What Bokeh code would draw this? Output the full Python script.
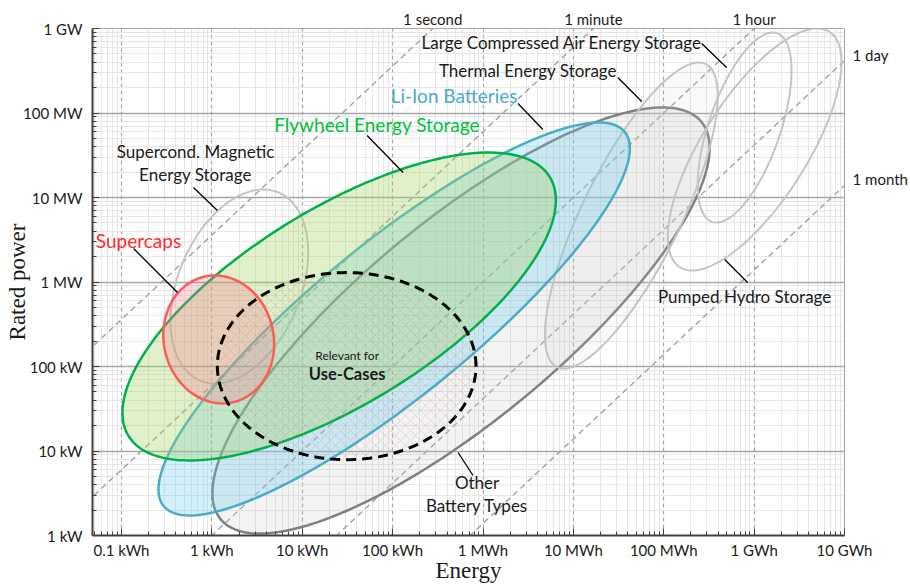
import numpy as np
from bokeh.plotting import figure
from bokeh.models import Range1d, FixedTicker, CustomJSTickFormatter, Label, LogAxis
from bokeh.embed import file_html
from bokeh.resources import INLINE

# ---------------- data ----------------
x_ticks = [0.1, 1, 10, 100, 1e3, 1e4, 1e5, 1e6, 1e7]            # kWh
x_tick_labels = ["0.1 kWh", "1 kWh", "10 kWh", "100 kWh", "1 MWh",
                 "10 MWh", "100 MWh", "1 GWh", "10 GWh"]
y_ticks = [1, 10, 100, 1e3, 1e4, 1e5, 1e6]                         # kW
y_tick_labels = ["1 kW", "10 kW", "100 kW", "1 MW", "10 MW", "100 MW", "1 GW"]

# storage technologies: ellipses in log-log space
tech = ["Other Battery Types", "Thermal Energy Storage", "Large CAES",
        "Pumped Hydro Storage", "SMES", "Li-Ion Batteries",
        "Flywheel Energy Storage", "Supercaps", "Use-Cases"]
center_energy_kwh = [571, 43750, 785000, 1014000, 2.01, 104, 25.6, 1.19, 31.0]
center_power_kw = [350, 6120, 67300, 37000, 885, 365, 513, 209, 101]
energy_halfspan_dec = [2.751, 0.956, 0.519, 0.961, 0.762, 2.608, 2.398, 0.613, 1.431]
power_halfspan_dec = [2.521, 1.811, 1.124, 1.432, 1.148, 2.325, 1.822, 0.757, 1.107]
tilt = [0.81, 0.78, 0.60, 0.72, 0.35, 0.868, 0.69, -0.07, 0.0]

# constant discharge-duration lines
durations_h = [1 / 3600, 1 / 60, 1, 24, 720]
duration_labels = ["1 second", "1 minute", "1 hour", "1 day", "1 month"]

# annotation texts (anchor energy kWh, power kW) and leader lines
label_texts = ["Supercond. Magnetic\nEnergy Storage", "Supercaps",
               "Flywheel Energy Storage", "Li-Ion Batteries",
               "Thermal Energy Storage", "Large Compressed Air Energy Storage",
               "Pumped Hydro Storage", "Other\nBattery Types"]
label_energy = [0.658, 0.154, 67.4, 479, 3140, 7460, 785000, 859]
label_power = [25900, 3100, 73100, 161000, 318000, 683000, 673, 3.06]
leader_e0 = [0.625, 0.136, 52.2, 2440, 31000, 263000, 847000, 776]
leader_p0 = [13100, 2490, 54200, 129500, 263000, 664000, 986, 5.13]
leader_e1 = [1.15, 0.416, 130.6, 4600, 57100, 496000, 472000, 530]
leader_p1 = [7020, 751, 19770, 63800, 136800, 345000, 1846, 9.6]

usecase_texts = ["Relevant for", "Use-Cases"]
usecase_energy = [31.4, 31.4]
usecase_power = [135, 82.6]

# ---------------- styles ----------------
styles = {
    "Other Battery Types": dict(line_color="#808080", line_width=2.5, fill_color="#c8c8c8", fill_alpha=0.22),
    "Thermal Energy Storage": dict(line_color="#c4c4c4", line_width=2, fill_color="#d0d0d0", fill_alpha=0.12),
    "Large CAES": dict(line_color="#c4c4c4", line_width=2, fill_color=None, fill_alpha=0),
    "Pumped Hydro Storage": dict(line_color="#c4c4c4", line_width=2, fill_color=None, fill_alpha=0),
    "SMES": dict(line_color="#c4c4c4", line_width=2, fill_color=None, fill_alpha=0),
    "Li-Ion Batteries": dict(line_color="#4bacc6", line_width=2.5, fill_color="#5fc6ee", fill_alpha=0.27),
    "Flywheel Energy Storage": dict(line_color="#00b050", line_width=2.5, fill_color="#a6d46a", fill_alpha=0.35),
    "Supercaps": dict(line_color="#ff5a5a", line_width=2.5, fill_color="#f87890", fill_alpha=0.28),
    "Use-Cases": dict(line_color="#000000", line_width=3, line_dash="10 6", fill_color=None, fill_alpha=0,
                      hatch_pattern="diagonal_cross", hatch_color="#b98585", hatch_alpha=0.25,
                      hatch_scale=10, hatch_weight=1),
}
label_colors = ["#1a1a1a", "#ff2a2a", "#00c040", "#4bacc6", "#1a1a1a", "#1a1a1a", "#1a1a1a", "#1a1a1a"]
label_sizes = ["17px", "19px", "19px", "19px", "17px", "17px", "17px", "17px"]
FONT = "Lato"
DARK = "#1a1a1a"

# ---------------- figure ----------------
x_min = 10 ** -1.321
p = figure(width=910, height=587, x_axis_type="log", y_axis_type="log",
           x_range=Range1d(x_min, 1e7), y_range=Range1d(1, 1e6),
           output_backend="svg", toolbar_location=None,
           min_border_left=92, min_border_right=65, min_border_top=28, min_border_bottom=52)
p.background_fill_color = "white"
p.outline_line_color = "#a6a6a6"

minor_x = [m * 10.0 ** k for k in range(-2, 7) for m in range(2, 10) if x_min < m * 10.0 ** k < 1e7]
minor_y = [m * 10.0 ** k for k in range(0, 6) for m in range(2, 10)]
xt = FixedTicker(ticks=x_ticks, minor_ticks=minor_x)
yt = FixedTicker(ticks=y_ticks, minor_ticks=minor_y)
p.xaxis.ticker = xt
p.yaxis.ticker = yt
p.xgrid.ticker = xt
p.ygrid.ticker = yt
p.xaxis.formatter = CustomJSTickFormatter(args=dict(labels=x_tick_labels),
    code="const i = Math.round(Math.log10(tick)) + 1; return labels[i] ?? '';")
p.yaxis.formatter = CustomJSTickFormatter(args=dict(labels=y_tick_labels),
    code="const i = Math.round(Math.log10(tick)); return labels[i] ?? '';")

p.xgrid.grid_line_color = "#a6a6a6"
p.xgrid.grid_line_dash = "4 3"
p.xgrid.grid_line_width = 1.2
p.ygrid.grid_line_color = "#a6a6a6"
p.ygrid.grid_line_width = 1.5
for g in (p.xgrid, p.ygrid):
    g.minor_grid_line_color = "#e6e6e6"
    g.minor_grid_line_width = 1

for ax in (p.xaxis, p.yaxis):
    ax.axis_line_color = "#404040"
    ax.axis_line_width = 2
    ax.major_tick_in = 7
    ax.major_tick_out = 0
    ax.minor_tick_in = 4
    ax.minor_tick_out = 0
    ax.major_tick_line_color = "#404040"
    ax.minor_tick_line_color = "#404040"
    ax.major_label_text_font = FONT
    ax.major_label_text_font_size = "15px"
    ax.major_label_text_color = DARK
    ax.axis_label_text_font = "Liberation Serif"
    ax.axis_label_text_font_size = "23px"
    ax.axis_label_text_font_style = "normal"
    ax.axis_label_text_color = DARK
p.xaxis.axis_label = "Energy"
p.yaxis.axis_label = "Rated power"
p.xaxis.major_label_standoff = 5
p.yaxis.major_label_standoff = 10
p.xaxis.axis_label_standoff = -4
p.yaxis.axis_label_standoff = -10

# duration-line labels as auxiliary axes (top: crossing 1 GW, right: crossing 10 GWh)
dur_fmt_code = """
let best = 0;
for (let i = 0; i < vals.length; i++) {
  if (Math.abs(Math.log10(vals[i]) - Math.log10(tick)) < Math.abs(Math.log10(vals[best]) - Math.log10(tick))) best = i;
}
return labels[best];
"""
top_vals = [1e6 * t for t in durations_h if 1e6 * t <= 1e7]
top_labels = [l for t, l in zip(durations_h, duration_labels) if 1e6 * t <= 1e7]
right_vals = [1e7 / t for t in durations_h if 1e6 * t > 1e7]
right_labels = [l for t, l in zip(durations_h, duration_labels) if 1e6 * t > 1e7]

shift = 6 / 84.5
p.extra_y_ranges = {"dur": Range1d(10 ** (-shift), 10 ** (6 - shift))}

top_ax = LogAxis(ticker=FixedTicker(ticks=top_vals, minor_ticks=[]),
                 formatter=CustomJSTickFormatter(args=dict(vals=top_vals, labels=top_labels), code=dur_fmt_code))
right_ax = LogAxis(y_range_name="dur", ticker=FixedTicker(ticks=right_vals, minor_ticks=[]),
                   formatter=CustomJSTickFormatter(args=dict(vals=right_vals, labels=right_labels), code=dur_fmt_code))
for ax in (top_ax, right_ax):
    ax.axis_line_color = None
    ax.major_tick_line_color = None
    ax.minor_tick_line_color = None
    ax.major_tick_in = 0
    ax.major_tick_out = 0
    ax.major_label_text_font = FONT
    ax.major_label_text_font_size = "15px"
    ax.major_label_text_color = DARK
top_ax.major_label_standoff = 1
right_ax.major_label_standoff = 8
p.add_layout(top_ax, "above")
p.add_layout(right_ax, "right")

# duration lines
for t in durations_h:
    pw = np.array([1e-3, 1e9])
    p.line(pw * t, pw, line_color="#a6a6a6", line_width=1.5, line_dash="6 4")

# ellipses
ts = np.linspace(0, 2 * np.pi, 240)
for name, ce, cp, w, h, k in zip(tech, center_energy_kwh, center_power_kw,
                                 energy_halfspan_dec, power_halfspan_dec, tilt):
    phi = np.arccos(k)
    lx = np.log10(ce) + w * np.cos(ts)
    ly = np.log10(cp) + h * np.cos(ts - phi)
    p.patch(10 ** lx, 10 ** ly, **styles[name])

# leader lines
p.segment(leader_e0, leader_p0, leader_e1, leader_p1, line_color="#000000", line_width=1.3)

# labels
LH = 23
for txt, e, pw, col, fs in zip(label_texts, label_energy, label_power, label_colors, label_sizes):
    lines = txt.split("\n")
    n = len(lines)
    for i, ln in enumerate(lines):
        p.add_layout(Label(x=e, y=pw, text=ln, text_align="center", text_baseline="middle",
                           y_offset=(n - 1) / 2 * LH - i * LH, text_font=FONT,
                           text_font_size=fs, text_color=col))

p.add_layout(Label(x=usecase_energy[0], y=usecase_power[0], text=usecase_texts[0],
                   text_align="center", text_baseline="middle", text_font=FONT,
                   text_font_size="12px", text_color=DARK))
p.add_layout(Label(x=usecase_energy[1], y=usecase_power[1], text=usecase_texts[1],
                   text_align="center", text_baseline="middle", text_font=FONT,
                   text_font_size="16.5px", text_font_style="bold", text_color=DARK))

open("out.html", "w").write(file_html(p, INLINE))
